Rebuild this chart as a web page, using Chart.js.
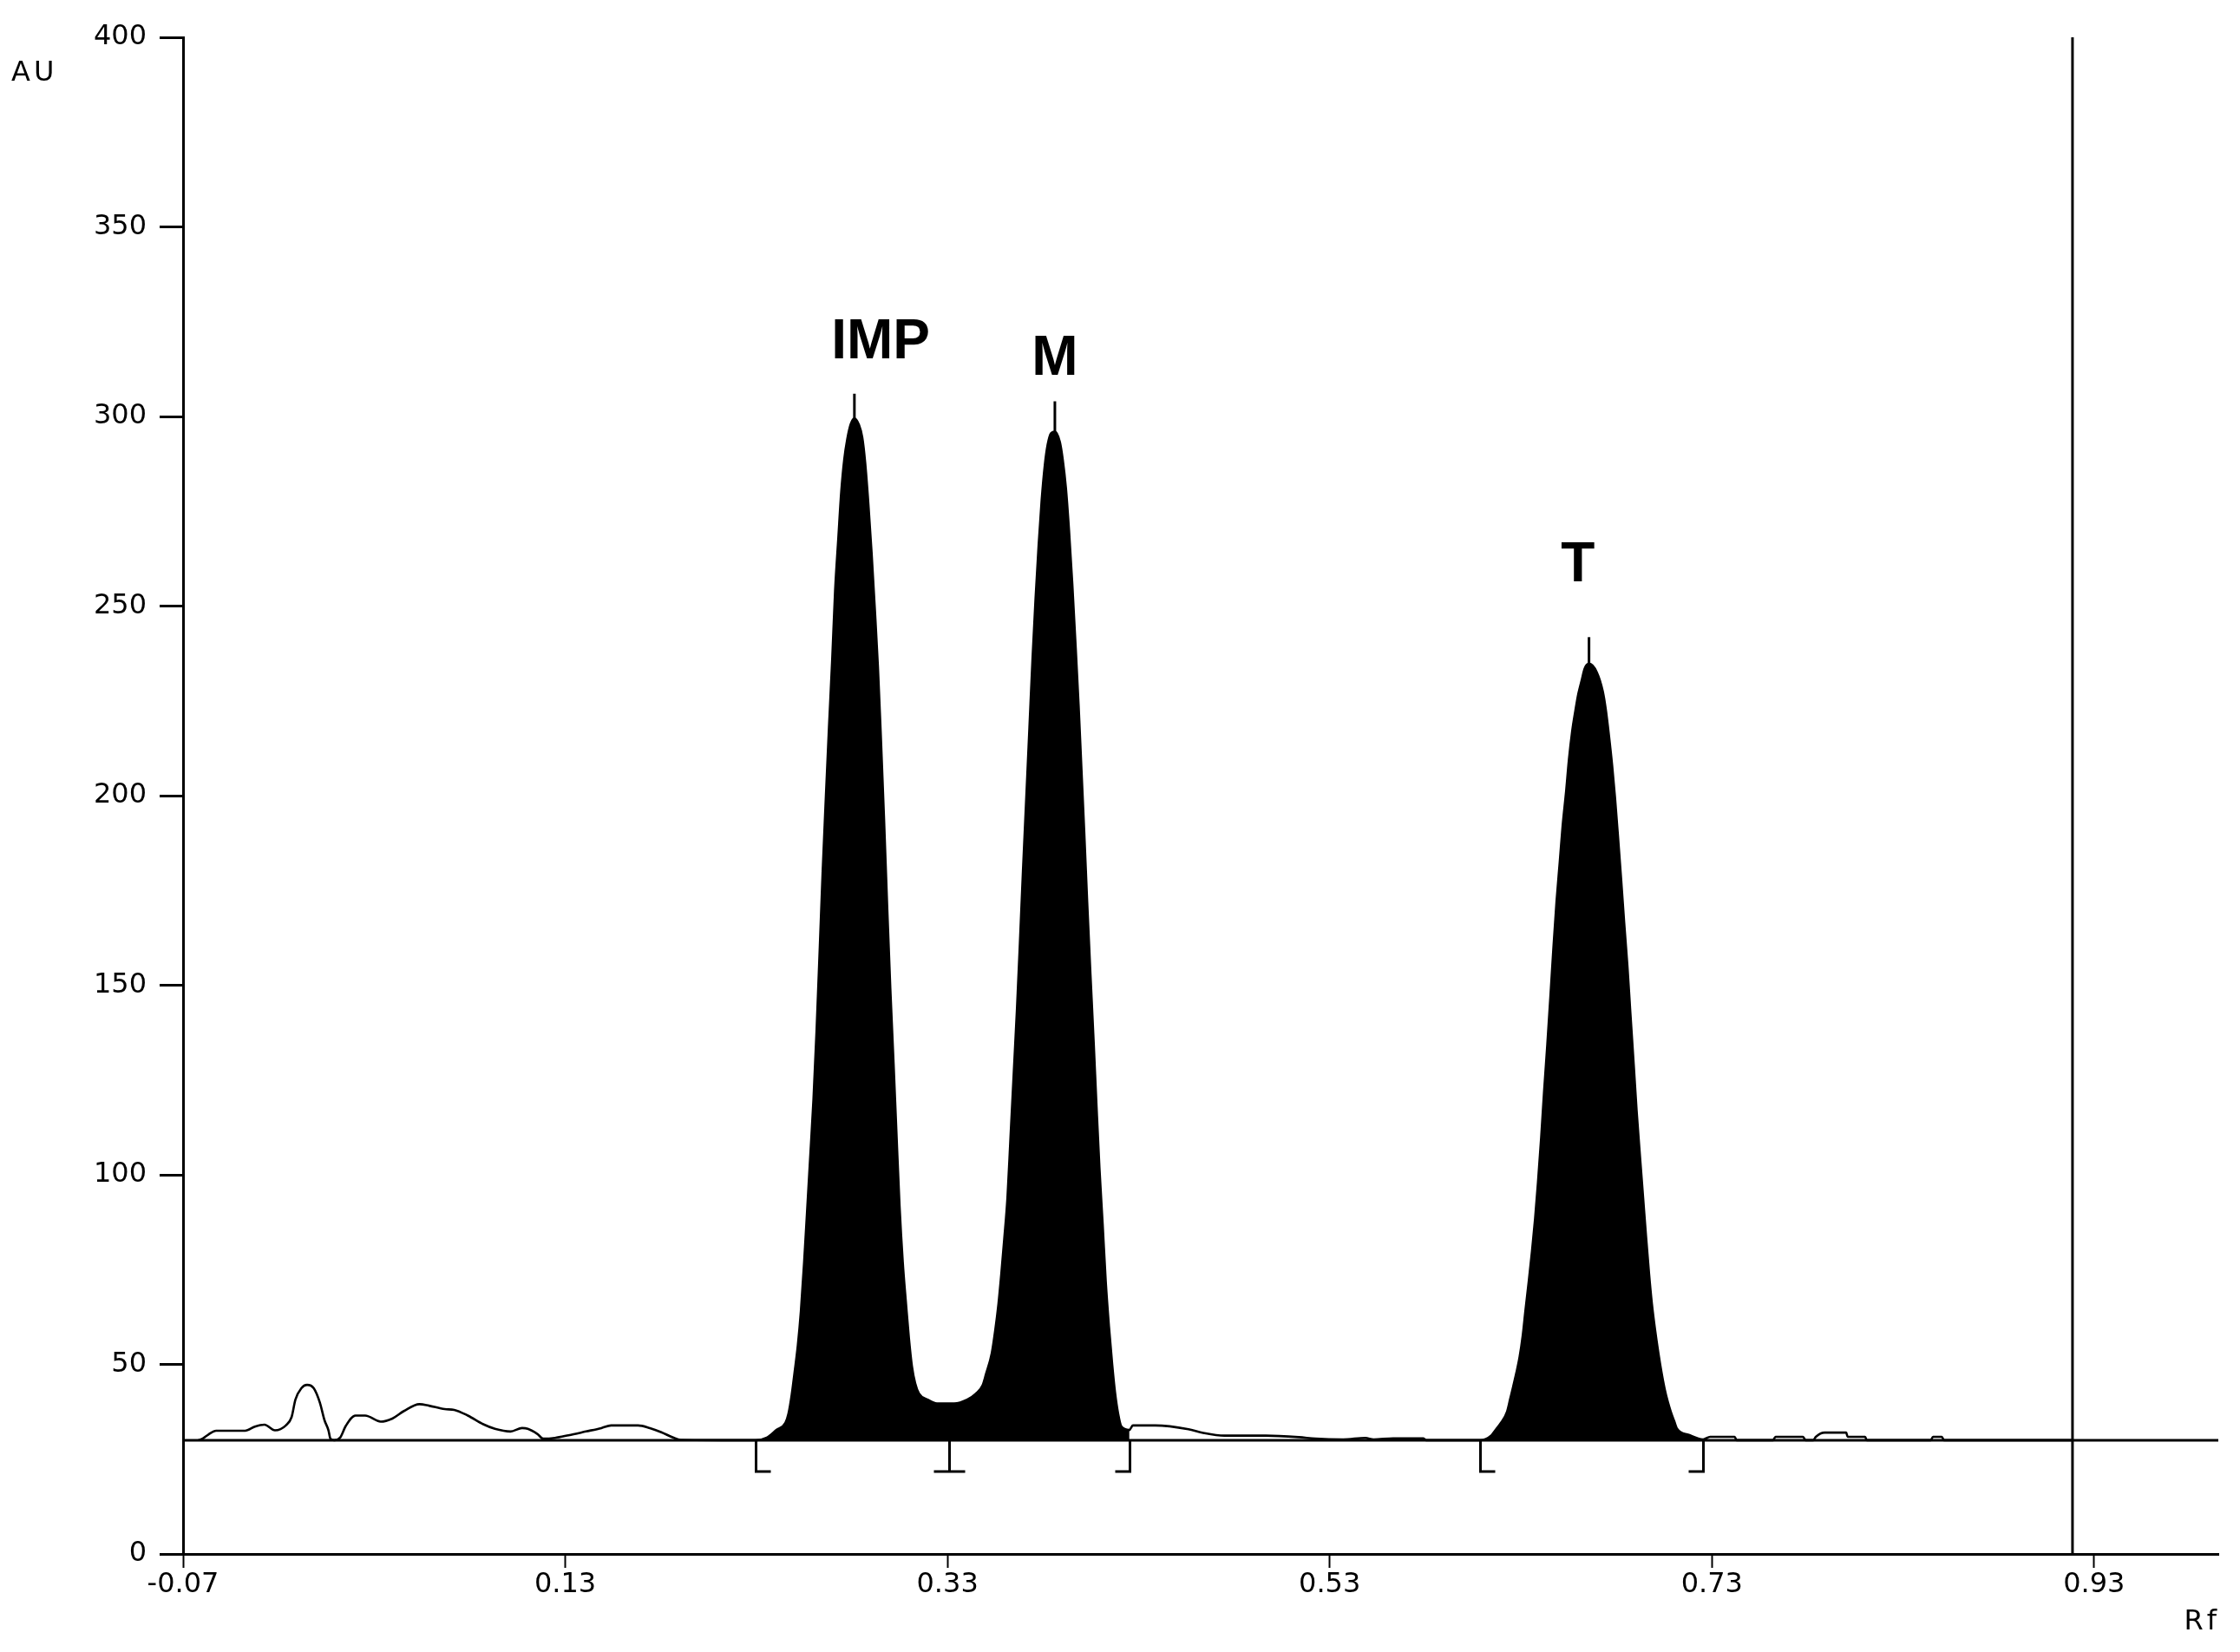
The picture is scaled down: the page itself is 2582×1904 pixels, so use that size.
<!DOCTYPE html>
<html><head><meta charset="utf-8">
<script src="https://cdn.jsdelivr.net/npm/chart.js@4.4.1/dist/chart.umd.min.js"></script>
<style>html,body{margin:0;padding:0;background:#fff;}#wrap{width:2582px;height:1904px;}</style>
</head><body><div id="wrap"><canvas id="c" width="2582" height="1904"></canvas></div>
<script>
// ---------- data ----------
const xTickValues = [-0.07, 0.13, 0.33, 0.53, 0.73, 0.93];
const yTickValues = [0, 50, 100, 150, 200, 250, 300, 350, 400];
const xRange = [-0.07, 0.995];
const yRange = [0, 400];
const baselineAu = 30;
const markerRf = 0.9187;

const rfValues = [
-0.0620,-0.0598,-0.0567,-0.0527,-0.0375,-0.0324,-0.0274,-0.0219,-0.0162,-0.0132,-0.0112,-0.0081,-0.0051,-0.0016,
0.0016,0.0040,0.0061,0.0071,0.0091,0.0122,0.0152,0.0202,0.0253,0.0334,0.0395,0.0456,0.0537,0.0587,0.0669,0.0719,
0.0790,0.0871,0.0932,0.1013,0.1074,0.1104,0.1155,0.1185,0.1246,0.1317,0.1408,0.1489,0.1540,0.1681,0.1743,0.1803,
0.1864,0.1905,0.2296,
0.2355,0.2405,0.2452,0.2468,0.2485,0.2500,0.2517,0.2533,0.2550,0.2565,0.2582,0.2599,0.2615,0.2632,0.2647,0.2664,
0.2680,0.2697,0.2712,0.2729,0.2744,0.2760,0.2776,0.2794,0.2813,0.2836,0.2854,0.2869,0.2886,0.2903,0.2919,0.2936,
0.2951,0.2968,0.2985,0.3001,0.3018,0.3033,0.3049,0.3066,0.3083,0.3098,0.3114,0.3131,0.3151,0.3196,0.3245,0.3335,
0.3403,0.3449,0.3484,0.3502,0.3532,0.3550,0.3567,0.3582,0.3597,0.3614,0.3630,0.3647,0.3664,0.3679,0.3695,0.3712,
0.3729,0.3745,0.3761,0.3777,0.3793,0.3809,0.3824,0.3842,0.3862,0.3888,0.3903,0.3920,0.3936,0.3953,0.3970,0.3986,
0.4001,0.4016,0.4031,0.4048,0.4065,0.4080,0.4095,0.4112,0.4128,0.4145,0.4162,0.4177,0.4193,0.4210,0.4252,
0.4270,0.4387,0.4561,0.4633,0.4749,0.4966,0.5139,0.5226,0.5371,0.5487,0.5530,0.5632,0.5791,0.5805,0.6089,
0.6147,0.6165,0.6195,0.6228,0.6245,0.6260,0.6277,0.6294,0.6310,0.6325,0.6342,0.6359,0.6375,0.6390,0.6407,0.6422,
0.6439,0.6455,0.6471,0.6487,0.6504,0.6519,0.6537,0.6552,0.6569,0.6586,0.6601,0.6619,0.6634,0.6657,0.6698,0.6729,
0.6744,0.6761,0.6778,0.6793,0.6809,0.6825,0.6841,0.6858,0.6873,0.6891,0.6906,0.6925,0.6940,0.6955,0.6971,0.6986,
0.7003,0.7020,0.7036,0.7053,0.7070,0.7085,0.7103,0.7118,0.7179,0.7254,
0.7291,0.7419,0.7430,0.7620,0.7633,0.7777,0.7790,0.7830,0.7844,0.7890,0.8003,0.8010,0.8102,0.8110,0.8445,0.8457,
0.8503,0.8515,0.9187
];
const auValues = [
30.0,30.4,31.5,32.5,32.5,33.6,34.1,32.6,33.9,36.1,40.7,43.7,44.6,43.7,
39.9,35.3,32.6,30.4,30.0,30.7,33.8,36.5,36.5,34.9,35.7,37.7,39.5,39.1,38.2,38.0,
36.5,34.2,33.0,32.3,33.2,33.0,31.6,30.4,30.6,31.3,32.3,33.2,33.9,33.9,33.2,32.1,
30.7,30.1,30.0,
30.7,32.7,34.6,37.0,42.0,47.9,55.0,64.0,77.0,90.0,104.9,120.0,138.0,160.0,180.0,200.0,
218.0,236.0,254.0,268.0,280.0,288.7,294.1,298.0,299.5,297.9,294.5,288.0,277.0,264.0,250.0,234.0,
216.0,194.0,170.0,149.0,129.3,111.0,92.0,77.0,66.0,57.0,49.5,45.0,42.3,40.7,39.7,39.7,
40.7,42.3,44.5,47.5,53.0,59.0,66.0,74.0,83.0,94.0,110.0,127.0,144.0,161.0,180.0,199.0,
218.0,236.0,252.0,266.0,278.0,287.0,292.5,295.6,296.0,293.3,288.7,281.0,270.0,256.0,240.0,224.0,
207.0,190.0,172.0,153.0,135.0,118.0,102.0,87.0,72.0,60.0,50.0,42.5,37.0,33.6,32.7,
33.9,33.9,32.9,32.0,31.2,31.2,30.8,30.4,30.2,30.6,30.2,30.5,30.5,30.0,30.0,
31.3,32.5,34.5,37.5,41.0,44.1,47.8,52.0,57.5,64.5,72.0,80.0,88.5,98.0,110.0,122.0,
134.4,147.0,160.0,172.0,182.5,192.0,201.0,209.5,217.0,222.5,226.8,230.5,233.5,234.8,232.5,227.5,
223.0,216.0,208.0,199.5,189.0,178.0,166.5,155.0,143.0,129.0,117.0,104.0,94.0,84.0,74.0,66.0,
59.0,53.0,48.0,43.5,40.0,37.5,35.0,33.0,31.4,30.2,
30.9,30.9,30.0,30.0,30.9,30.9,30.0,30.0,30.9,32.0,32.0,30.9,30.9,30.0,30.0,30.9,
30.9,30.0,30.0
];

const peakRangeStart = [0.2296, 0.6089];
const peakRangeEnd = [0.4252, 0.7254];

const spikeRf = [0.2813, 0.3862, 0.6657];
const spikeBaseAu = [299.0, 295.5, 234.5];
const spikeTopAu = [306.0, 304.0, 241.8];

const bracketRf = [0.2296, 0.3308, 0.4252, 0.6089, 0.7253];
const bracketKind = ['[', 'I', ']', '[', ']'];

const peakLabels = ['IMP', 'M', 'T'];
const peakLabelRf = [0.2950, 0.3862, 0.6599];
const peakLabelAu = [315.3, 311.0, 256.5];

const yTitle = 'AU';
const xTitle = 'Rf';

// ---------- build ----------
const trace = rfValues.map((r, i) => ({ x: r, y: auValues[i] }));
const BLACK = '#000000';
const lineBase = { pointRadius: 0, tension: 0, borderColor: BLACK, fill: false };
const smooth = { cubicInterpolationMode: 'monotone' };

const datasets = [];
peakRangeStart.forEach((a, i) => {
  const b = peakRangeEnd[i];
  datasets.push(Object.assign({}, lineBase, smooth, {
    data: trace.filter(p => p.x >= a && p.x <= b),
    borderWidth: 0, backgroundColor: BLACK, fill: { value: baselineAu }
  }));
});
datasets.push(Object.assign({}, lineBase, smooth, { data: trace, borderWidth: 2.6 }));
datasets.push(Object.assign({}, lineBase, {
  data: [{ x: xRange[0], y: baselineAu }, { x: xRange[1], y: baselineAu }], borderWidth: 3
}));
datasets.push(Object.assign({}, lineBase, {
  data: [{ x: markerRf, y: yRange[0] }, { x: markerRf, y: yRange[1] }], borderWidth: 3
}));
spikeRf.forEach((r, i) => {
  datasets.push(Object.assign({}, lineBase, {
    data: [{ x: r, y: spikeBaseAu[i] }, { x: r, y: spikeTopAu[i] }], borderWidth: 3
  }));
});

const overlay = {
  id: 'overlay',
  afterDatasetsDraw(chart) {
    const { ctx, scales: { x, y }, chartArea } = chart;
    ctx.save();
    ctx.strokeStyle = BLACK;
    ctx.lineWidth = 3;
    ctx.lineCap = 'butt';
    const yb = y.getPixelForValue(baselineAu);
    const depth = 36, foot = 17, halfI = 18;
    bracketRf.forEach((rf, i) => {
      const px = Math.round(x.getPixelForValue(rf)) + 0.5;
      ctx.beginPath();
      ctx.moveTo(px, yb);
      ctx.lineTo(px, yb + depth);
      const k = bracketKind[i];
      if (k === '[') ctx.lineTo(px + foot, yb + depth);
      else if (k === ']') ctx.lineTo(px - foot, yb + depth);
      else { ctx.moveTo(px - halfI, yb + depth); ctx.lineTo(px + halfI, yb + depth); }
      ctx.stroke();
    });
    ctx.fillStyle = BLACK;
    ctx.font = 'bold 64px "Liberation Sans", Arial, sans-serif';
    ctx.textAlign = 'center';
    ctx.textBaseline = 'alphabetic';
    peakLabels.forEach((t, i) => {
      ctx.fillText(t, x.getPixelForValue(peakLabelRf[i]), y.getPixelForValue(peakLabelAu[i]));
    });
    ctx.font = '32px "DejaVu Sans", sans-serif';
    try { ctx.letterSpacing = '4px'; } catch (e) {}
    ctx.textAlign = 'left';
    ctx.fillText(yTitle, chartArea.left - 198, chartArea.top + 50);
    ctx.textAlign = 'right';
    ctx.fillText(xTitle, chartArea.right + 2, chartArea.bottom + 87);
    ctx.restore();
  }
};

const tickFont = { family: '"DejaVu Sans", sans-serif', size: 32 };

new Chart(document.getElementById('c'), {
  type: 'line',
  data: { datasets },
  plugins: [overlay],
  options: {
    responsive: false,
    animation: false,
    devicePixelRatio: 1,
    layout: { padding: { left: 0, top: 43, right: 25, bottom: 0 } },
    plugins: { legend: { display: false }, tooltip: { enabled: false } },
    elements: { line: { borderCapStyle: 'butt' } },
    scales: {
      x: {
        type: 'linear', min: xRange[0], max: xRange[1],
        afterBuildTicks: s => { s.ticks = xTickValues.map(v => ({ value: v })); },
        afterFit: s => { s.height = 113; },
        ticks: { callback: v => Number(v).toFixed(2), font: tickFont, color: BLACK, padding: 0, maxRotation: 0, autoSkip: false },
        grid: { display: true, drawOnChartArea: false, drawTicks: true, tickLength: 16, tickWidth: 2, tickColor: BLACK },
        border: { display: true, color: BLACK, width: 3 }
      },
      y: {
        type: 'linear', min: yRange[0], max: yRange[1],
        afterBuildTicks: s => { s.ticks = yTickValues.map(v => ({ value: v })); },
        afterFit: s => { s.width = 211; },
        ticks: { callback: v => String(v), font: tickFont, color: BLACK, padding: 15, autoSkip: false },
        grid: { display: true, drawOnChartArea: false, drawTicks: true, tickLength: 27, tickWidth: 3, tickColor: BLACK },
        border: { display: true, color: BLACK, width: 3 }
      }
    }
  }
});
</script></body></html>
